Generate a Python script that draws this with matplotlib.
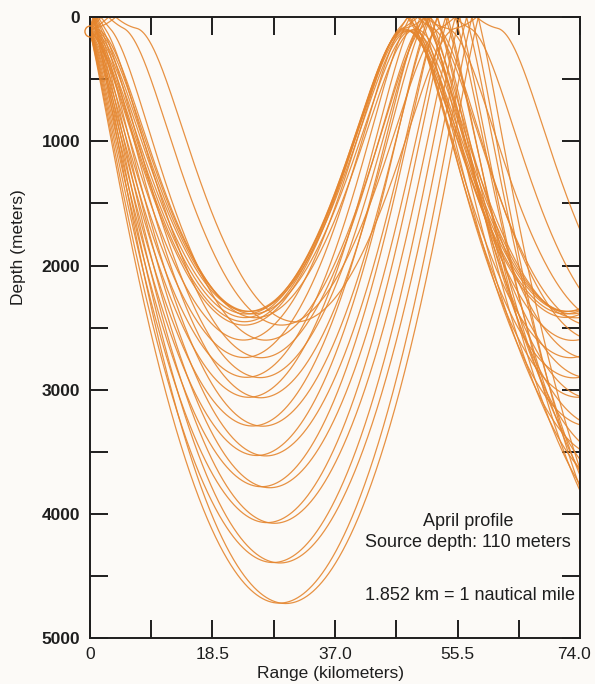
"""Acoustic ray paths for the April sound-speed profile, source at 110 m.

Rays are traced through a range-independent sound-speed profile.  Each
ray is identified by the depth at which it turns on its deep excursion;
every ray is launched once upward and once downward from the source.
Writes ``out.png``.
"""
from __future__ import annotations

import matplotlib

matplotlib.use("Agg")
import matplotlib.pyplot as plt
import matplotlib.transforms as mtransforms
import numpy as np

# April sound-speed profile
PROFILE_DEPTH_M = [0, 90, 110, 150, 200, 300, 400, 500, 600, 700, 800, 870,
                   1000, 1200, 1500, 2000, 2500, 3000, 3500, 4000, 4500, 5000]
PROFILE_SPEED_MS = [1508.09, 1509.53, 1508.22, 1505.82, 1503.13, 1498.76,
                    1495.51, 1493.16, 1491.56, 1490.58, 1490.09, 1490.00,
                    1490.28, 1491.57, 1494.83, 1502.11, 1510.41, 1519.07,
                    1527.88, 1536.73, 1545.60, 1554.47]

SOURCE_DEPTH_M = 110.0

# lower turning depth of each traced ray (m)
TURN_DEPTH_M = [2370, 2390, 2420, 2453, 2480, 2600, 2740, 2900, 3060,
                3290, 3530, 3780, 4070, 4390, 4720]

RANGE_TICKS_KM = [0, 18.5, 37.0, 55.5, 74.0]
DEPTH_TICKS_M = [0, 1000, 2000, 3000, 4000, 5000]

NOTE_LINES = ["April profile", "Source depth: 110 meters"]
SCALE_NOTE = "1.852 km = 1 nautical mile"

RAY_COLOR = "#E5862F"
INK = "#1E1E1E"
PAPER = "#FCFAF7"
FONT = ["Liberation Sans", "DejaVu Sans"]

_Z = np.asarray(PROFILE_DEPTH_M, float)
_C = np.asarray(PROFILE_SPEED_MS, float)
_G = np.diff(_C) / np.diff(_Z)


def sound_speed(z):
    return np.interp(z, _Z, _C)


def speed_gradient(z):
    idx = np.clip(np.searchsorted(_Z, z, side="right") - 1, 0, len(_G) - 1)
    return _G[idx]


def trace_rays(turn_depths, sign, ds=10.0, max_range=75500.0):
    """Midpoint-rule ray trace in arc length; sign +1 launches downward."""
    c_s = sound_speed(SOURCE_DEPTH_M)
    xi = 1.0 / sound_speed(np.asarray(turn_depths, float))
    zeta = sign * np.sqrt(np.maximum(1.0 / c_s**2 - xi**2, 0.0))
    r = np.zeros_like(xi)
    z = np.full_like(xi, SOURCE_DEPTH_M)

    rs, zs = [r.copy()], [z.copy()]
    while r.min() < max_range and len(rs) < 20000:
        c = sound_speed(z)
        zm = z + 0.5 * ds * c * zeta
        zeta_m = zeta - 0.5 * ds * speed_gradient(z) / c**2
        cm = sound_speed(zm)
        r = r + ds * cm * xi
        z = z + ds * cm * zeta_m
        zeta = zeta - ds * speed_gradient(zm) / cm**2
        # reflect at the sea surface
        up = z < 0
        z[up] = -z[up]
        zeta[up] = -zeta[up]
        rs.append(r.copy())
        zs.append(z.copy())
    return np.array(rs), np.array(zs)


def draw(ax):
    for sign in (1, -1):
        rs, zs = trace_rays(TURN_DEPTH_M, sign)
        for k in range(rs.shape[1]):
            ax.plot(rs[:, k] / 1000.0, zs[:, k], color=RAY_COLOR, lw=0.9,
                    alpha=0.9, solid_capstyle="round")
    ax.plot([0], [SOURCE_DEPTH_M], "o", ms=8, mfc="none", mec=RAY_COLOR,
            mew=1.0, clip_on=False, zorder=5)


def style_axes(ax):
    ax.set_xlim(RANGE_TICKS_KM[0], RANGE_TICKS_KM[-1])
    ax.set_ylim(DEPTH_TICKS_M[-1], DEPTH_TICKS_M[0])

    ax.set_xticks(RANGE_TICKS_KM)
    ax.set_xticklabels(["0" if v == 0 else f"{v:.1f}" for v in RANGE_TICKS_KM],
                       fontsize=12.5, family=FONT)
    mids = [(a + b) / 2 for a, b in zip(RANGE_TICKS_KM[:-1], RANGE_TICKS_KM[1:])]
    ax.set_xticks(mids, minor=True)

    ax.set_yticks(DEPTH_TICKS_M)
    ax.set_yticklabels([str(v) for v in DEPTH_TICKS_M], fontsize=12.5,
                       fontweight="bold", family=FONT)
    ymids = [(a + b) / 2 for a, b in zip(DEPTH_TICKS_M[:-1], DEPTH_TICKS_M[1:])]
    ax.set_yticks(ymids, minor=True)

    ax.tick_params(which="both", direction="in", top=True, right=True,
                   width=1.4, color=INK, labelcolor=INK, length=13)
    ax.tick_params(axis="y", which="both", left=True, pad=7)
    ax.tick_params(axis="x", which="both", pad=6)
    for s in ax.spines.values():
        s.set_linewidth(1.4)
        s.set_color(INK)

    # pull the last range label back inside the page
    last = ax.xaxis.get_major_ticks()[-1].label1
    shift = mtransforms.ScaledTranslation(-6 / 100, 0, ax.figure.dpi_scale_trans)
    last.set_transform(last.get_transform() + shift)

    ax.set_xlabel("Range (kilometers)", fontsize=12.5, family=FONT, color=INK)
    ax.xaxis.set_label_coords(0.49, -0.045)
    ax.set_ylabel("Depth (meters)", fontsize=12.5, family=FONT, color=INK)
    ax.yaxis.set_label_coords(-0.13, 0.63)

    ax.text(0.772, 0.1715, "\n".join(NOTE_LINES), transform=ax.transAxes,
            ha="center", va="center", fontsize=13, family=FONT, color=INK,
            linespacing=1.3)
    ax.text(0.775, 0.069, SCALE_NOTE, transform=ax.transAxes,
            ha="center", va="center", fontsize=13, family=FONT, color=INK)


def main() -> None:
    fig = plt.figure(figsize=(5.95, 6.84), dpi=100, facecolor=PAPER)
    ax = fig.add_axes([0.151, 0.067, 0.824, 0.908], facecolor=PAPER)
    draw(ax)
    style_axes(ax)
    fig.savefig("out.png", dpi=100, facecolor=PAPER)
    plt.close(fig)


if __name__ == "__main__":
    main()
